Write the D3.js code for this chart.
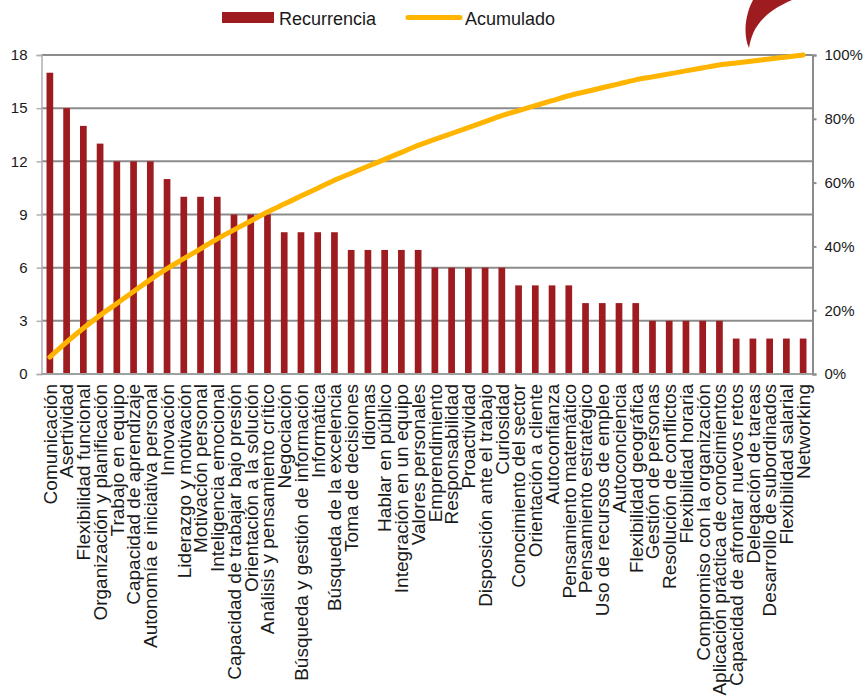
<!DOCTYPE html>
<html>
<head>
<meta charset="utf-8">
<script src="https://cdn.jsdelivr.net/npm/d3@7"></script>
<style>
    body { margin: 0; background: #fff; }
    svg { display: block; font-family: "Liberation Sans", Arial, sans-serif; }
    .tick-label { font-size: 15px; fill: #1a1a1a; }
    .cat-label { font-size: 19px; fill: #1a1a1a; }
    .legend-label { font-size: 18px; fill: #1a1a1a; }
</style>
</head>
<body>
<div id="chart"></div>
<script>
const categories = [
    "Comunicación", "Asertividad", "Flexibilidad funcional", "Organización y planificación",
    "Trabajo en equipo", "Capacidad de aprendizaje", "Autonomía e iniciativa personal",
    "Innovación", "Liderazgo y motivación", "Motivación personal", "Inteligencia emocional",
    "Capacidad de trabajar bajo presión", "Orientación a la solución",
    "Análisis y pensamiento crítico", "Negociación", "Búsqueda y gestión de información",
    "Informática", "Búsqueda de la excelencia", "Toma de decisiones", "Idiomas",
    "Hablar en público", "Integración en un equipo", "Valores personales", "Emprendimiento",
    "Responsabilidad", "Proactividad", "Disposición ante el trabajo", "Curiosidad",
    "Conocimiento del sector", "Orientación a cliente", "Autoconfianza",
    "Pensamiento matemático", "Pensamiento estratégico", "Uso de recursos de empleo",
    "Autoconciencia", "Flexibilidad geográfica", "Gestión de personas",
    "Resolución de conflictos", "Flexibilidad horaria", "Compromiso con la organización",
    "Aplicación práctica de conocimientos", "Capacidad de afrontar nuevos retos",
    "Delegación de tareas", "Desarrollo de subordinados", "Flexibilidad salarial", "Networking"
];

const recurrencia = [
    17, 15, 14, 13, 12, 12, 12, 11, 10, 10, 10, 9, 9, 9, 8, 8, 8, 8,
    7, 7, 7, 7, 7, 6, 6, 6, 6, 6, 5, 5, 5, 5, 4, 4, 4, 4,
    3, 3, 3, 3, 3, 2, 2, 2, 2, 2
];

const leftTicks = [0, 3, 6, 9, 12, 15, 18];
const rightTicks = [0, 0.2, 0.4, 0.6, 0.8, 1];

// pareto: share acumulada sobre el total
const total = d3.sum(recurrencia);
const acumulado = Array.from(d3.cumsum(recurrencia), v => v / total);

const width = 866;
const height = 696;
const plotLeft = 41.5;
const plotRight = 812.5;
const plotTop = 55;
const plotBottom = 374;

const barColor = "#9e1b20";
const lineColor = "#ffb400";
const gridColor = "#8c8c8c";

const svg = d3.select("#chart")
    .append("svg")
    .attr("width", width)
    .attr("height", height);

// logo swoosh arriba a la derecha
svg.append("path")
    .attr("d", "M753,0 C745,15 743,35 749,48 C752,30 760,14 792,0 Z")
    .attr("fill", "#9e1b20");

const x = d3.scaleBand()
    .domain(categories)
    .range([plotLeft, 811.5])
    .paddingInner(0.6)
    .paddingOuter(0.3);

const y = d3.scaleLinear()
    .domain([0, 18])
    .range([plotBottom, plotTop]);

const yPct = d3.scaleLinear()
    .domain([0, 1])
    .range([plotBottom, plotTop]);

// gridlines
svg.append("g")
    .selectAll("line")
    .data(leftTicks.filter(d => d > 0))
    .enter()
    .append("line")
    .attr("x1", plotLeft)
    .attr("x2", plotRight)
    .attr("y1", d => y(d))
    .attr("y2", d => y(d))
    .attr("stroke", gridColor)
    .attr("stroke-width", 2);

// left axis
const leftAxis = svg.append("g")
    .attr("transform", `translate(${plotLeft},0)`)
    .call(d3.axisLeft(y).tickValues(leftTicks).tickSize(5).tickPadding(9));
leftAxis.select(".domain").attr("stroke", "#b0b0b0").attr("stroke-width", 1.5);
leftAxis.selectAll(".tick line").attr("stroke", "#b0b0b0").attr("stroke-width", 1.5);
leftAxis.selectAll(".tick text")
    .attr("class", "tick-label")
    .attr("font-size", null)
    .attr("font-family", null);
leftAxis.attr("font-size", null).attr("font-family", null);

// right axis
const rightAxis = svg.append("g")
    .attr("transform", `translate(${plotRight},0)`)
    .call(d3.axisRight(yPct).tickValues(rightTicks).tickFormat(d3.format(".0%")).tickSize(4).tickPadding(8));
rightAxis.select(".domain").attr("stroke", gridColor).attr("stroke-width", 2);
rightAxis.selectAll(".tick line").attr("stroke", gridColor).attr("stroke-width", 2);
rightAxis.selectAll(".tick text").attr("class", "tick-label");
rightAxis.attr("font-size", null).attr("font-family", null);

// bars
svg.append("g")
    .selectAll("rect")
    .data(recurrencia)
    .enter()
    .append("rect")
    .attr("x", (d, i) => x(categories[i]))
    .attr("y", d => y(d))
    .attr("width", x.bandwidth())
    .attr("height", d => plotBottom - y(d))
    .attr("fill", barColor);

// bottom axis line
svg.append("line")
    .attr("x1", plotLeft)
    .attr("x2", plotRight)
    .attr("y1", plotBottom)
    .attr("y2", plotBottom)
    .attr("stroke", "#a0a0a0")
    .attr("stroke-width", 2);

// cumulative line
const line = d3.line()
    .x((d, i) => x(categories[i]) + x.bandwidth() / 2)
    .y(d => yPct(d))
    .curve(d3.curveMonotoneX);

svg.append("path")
    .datum(acumulado)
    .attr("d", line)
    .attr("fill", "none")
    .attr("stroke", lineColor)
    .attr("stroke-width", 5)
    .attr("stroke-linecap", "round")
    .attr("stroke-linejoin", "round");

// category labels
svg.append("g")
    .selectAll("text")
    .data(categories)
    .enter()
    .append("text")
    .attr("class", "cat-label")
    .attr("transform", d => `translate(${x(d) + x.bandwidth() / 2},384) rotate(-90)`)
    .attr("dy", "0.36em")
    .attr("text-anchor", "end")
    .text(d => d);

// legend
const legend = svg.append("g");

legend.append("rect")
    .attr("x", 222)
    .attr("y", 12)
    .attr("width", 52)
    .attr("height", 11)
    .attr("fill", barColor);

legend.append("text")
    .attr("class", "legend-label")
    .attr("x", 279)
    .attr("y", 24.5)
    .text("Recurrencia");

legend.append("line")
    .attr("x1", 408)
    .attr("x2", 460)
    .attr("y1", 17.5)
    .attr("y2", 17.5)
    .attr("stroke", lineColor)
    .attr("stroke-width", 5)
    .attr("stroke-linecap", "round");

legend.append("text")
    .attr("class", "legend-label")
    .attr("x", 465)
    .attr("y", 24.5)
    .text("Acumulado");
</script>
</body>
</html>
